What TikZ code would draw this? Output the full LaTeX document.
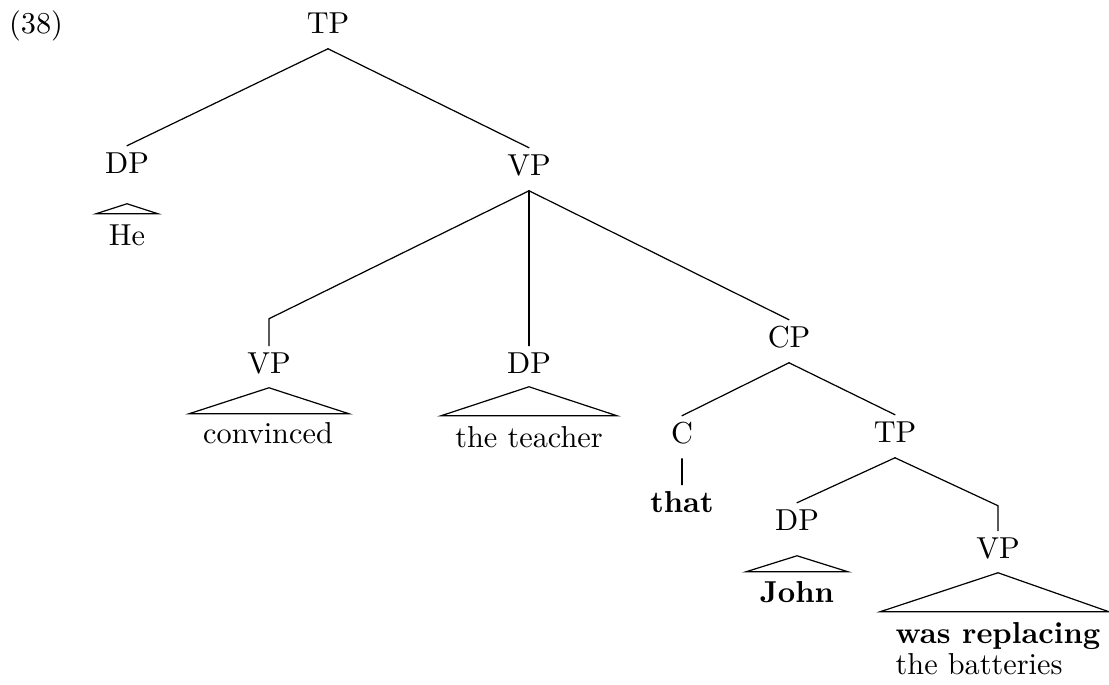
\documentclass[tikz,border=0pt]{standalone}
\usetikzlibrary{calc}
\tikzset{
  lab/.style={inner sep=0pt,text height=8.8pt,text depth=5pt,anchor=base},
  leaf/.style={lab,anchor=base west}
}
\begin{document}
\begin{tikzpicture}[x=.33pt,y=-.33pt,line cap=round]
  \useasboundingbox (0,0) rectangle (1109,684);
  \node[lab] (ex) at (36,33) {(38)};
  % Labels of the tree, placed on their baselines.
  \node[lab] (tp) at (328,33) {TP};
  \node[lab] (dp1) at (127,173) {DP};
  \node[lab] (vp) at (529,175) {VP};
  \node[lab] (vp1) at (269,373) {VP};
  \node[lab] (dp2) at (529,373) {DP};
  \node[lab] (cp) at (789,347) {CP};
  \node[lab] (c) at (682,443) {C};
  \node[lab] (tp2) at (895,442) {TP};
  \node[lab] (dp3) at (797,530) {DP};
  \node[lab] (vp3) at (998,558) {VP};
  % Words under the labels.
  \node[lab] (he) at (127,245) {He};
  \node[lab] (convinced) at (268,443) {convinced};
  \node[lab] (teacher) at (529,447) {the teacher};
  \node[lab] (that) at (682,512) {\textbf{that}};
  \node[lab] (john) at (797,602) {\textbf{John}};
  \node[leaf] (replacing) at (895,643) {\textbf{was replacing}};
  \node[leaf] (batteries) at (895,674) {the batteries};
  % Branches.
  \draw (tp.south) -- (dp1.north);
  \draw (tp.south) -- (vp.north);
  \draw (vp.south) -- ($(vp1.north)+(0,-27)$) -- (vp1.north);
  \draw (vp.south) -- (dp2.north);
  \draw (vp.south) -- (cp.north);
  \draw (cp.south) -- (c.north);
  \draw (cp.south) -- (tp2.north);
  \draw (c.south) -- (that.north);
  \draw (tp2.south) -- (dp3.north);
  \draw (tp2.south) -- ($(vp3.north)+(0,-25)$) -- (vp3.north);
  % Roofs over the unanalysed parts.
  \draw (dp1.south) ++(0,15) -- ++(31,10) -- ++(-62,0) -- cycle;
  \draw (vp1.south) ++(0,-1) -- ++(80,26) -- ++(-160,0) -- cycle;
  \draw (dp2.south) ++(0,-2) -- ++(88,29) -- ++(-176,0) -- cycle;
  \draw (dp3.south) ++(0,10) -- ++(51,16) -- ++(-102,0) -- cycle;
  \draw (vp3.south) ++(0,-1) -- ++(111,39) -- ++(-229,0) -- cycle;
\end{tikzpicture}
\end{document}
